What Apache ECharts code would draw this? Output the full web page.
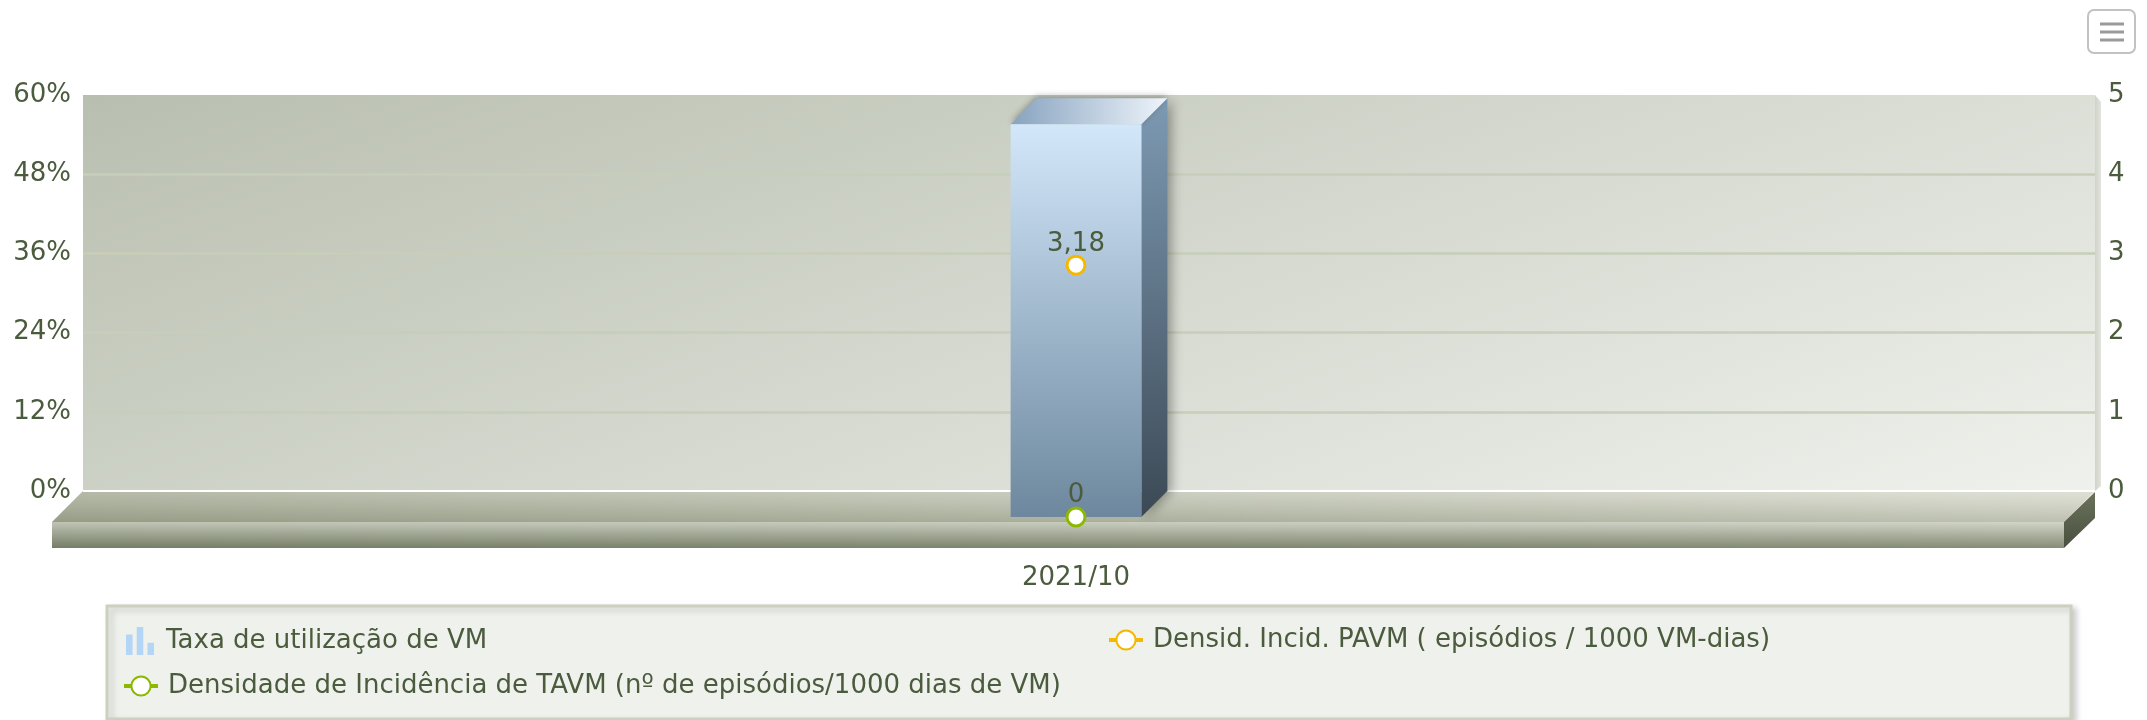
<!DOCTYPE html>
<html>
<head>
<meta charset="utf-8">
<script src="https://cdn.jsdelivr.net/npm/echarts@6/dist/echarts.min.js"></script>
<style>
html,body{margin:0;padding:0;background:#fff;}
#chart{width:2147px;height:720px;}
</style>
</head>
<body>
<div id="chart"></div>
<script>
// dados
var categories = ['2021/10'];
var taxaVM = [59.5];          // % (eixo esquerdo)
var densPAVM = [3.18];        // eixo direito
var densTAVM = [0];           // eixo direito
var pctAxis = {min: 0, max: 60, interval: 12};
var rightAxis = {min: 0, max: 5, interval: 1};

var NAME_BAR = 'Taxa de utilização de VM';
var NAME_PAVM = 'Densid. Incid. PAVM ( episódios / 1000 VM-dias)';
var NAME_TAVM = 'Densidade de Incidência de TAVM (nº de episódios/1000 dias de VM)';

var TXT = '#4b5b3d';
var FONT = 'DejaVu Sans, Verdana, sans-serif';
var FS = 26;
var wall = {x: 83, y: 95, w: 2012, h: 396};
var depth = 26;   // profundidade da barra
var floorD = 31;  // profundidade do chão

var LG = echarts.graphic.LinearGradient;
var chart = echarts.init(document.getElementById('chart'));

var floorY = wall.y + wall.h;
var floorTop = [[wall.x,floorY],[wall.x+wall.w,floorY],[wall.x+wall.w-floorD,floorY+floorD],[wall.x-floorD,floorY+floorD]];
var graphics = [
	//chão - face superior
	{type:'polygon', z:1, shape:{points:floorTop},
		style:{fill:new LG(0,0,1,0,[{offset:0,color:'#a9af9a'},{offset:1,color:'#dadccf'}])}},
	{type:'polygon', z:1, shape:{points:floorTop},
		style:{fill:new LG(0,0,0,1,[{offset:0,color:'rgba(255,255,255,0.15)'},{offset:1,color:'rgba(60,70,40,0.18)'}])}},
	//chão - frente
	{type:'rect', z:1, shape:{x:wall.x-floorD,y:floorY+floorD,width:wall.w,height:26},
		style:{fill:new LG(0,0,1,0,[{offset:0,color:'#9ea58e'},{offset:1,color:'#b8bda9'}])}},
	{type:'rect', z:1, shape:{x:wall.x-floorD,y:floorY+floorD,width:wall.w,height:26},
		style:{fill:new LG(0,0,0,1,[{offset:0,color:'rgba(255,255,255,0.35)'},{offset:1,color:'rgba(40,50,25,0.35)'}])}},
	//chão - lado direito
	{type:'polygon', z:1, shape:{points:[[wall.x+wall.w-floorD,floorY+floorD],[wall.x+wall.w,floorY+1],[wall.x+wall.w,floorY+27],[wall.x+wall.w-floorD,floorY+floorD+26]]},
		style:{fill:new LG(0,0,0,1,[{offset:0,color:'#6a725c'},{offset:1,color:'#4a5040'}])}},
	//linha branca na base da parede
	{type:'line', z:1, shape:{x1:wall.x,y1:floorY,x2:wall.x+wall.w,y2:floorY}, style:{stroke:'#ffffff',lineWidth:2}},
	//lado da parede
	{type:'polygon', z:1, shape:{points:[[wall.x+wall.w,wall.y],[wall.x+wall.w+6,wall.y+7],[wall.x+wall.w+6,floorY-5],[wall.x+wall.w,floorY]]},
		style:{fill:new LG(0,0,1,0,[{offset:0,color:'#cfd3c8'},{offset:1,color:'#e2e4dd'}])}},
	//caixa da legenda
	{type:'rect', z:0, shape:{x:107,y:606,width:1964,height:113},
		style:{fill:'#eff1ec',stroke:'#cbd0c0',lineWidth:3,shadowColor:'rgba(0,0,0,0.18)',shadowBlur:6,shadowOffsetX:4,shadowOffsetY:3}},
	//botão de menu
	{type:'rect', z:5, shape:{x:2088,y:10,width:47,height:43,r:6}, style:{fill:'#fff',stroke:'#c2c2c2',lineWidth:2}},
	{type:'line', z:5, shape:{x1:2100,y1:24,x2:2124,y2:24}, style:{stroke:'#9a9a9a',lineWidth:3}},
	{type:'line', z:5, shape:{x1:2100,y1:32,x2:2124,y2:32}, style:{stroke:'#9a9a9a',lineWidth:3}},
	{type:'line', z:5, shape:{x1:2100,y1:40,x2:2124,y2:40}, style:{stroke:'#9a9a9a',lineWidth:3}}
];

function renderBar3D(params, api){
	var top = api.coord([api.value(0), api.value(1)]);
	var base = api.coord([api.value(0), 0]);
	var bw = api.size([1,0])[0]*0.065;
	var x0 = top[0]-bw/2, x1 = top[0]+bw/2, d = depth;
	return {type:'group', children:[
		{type:'polygon', shape:{points:[[x1,top[1]],[x1+d,top[1]-d],[x1+d,base[1]-d],[x1,base[1]]]},
			style:{fill:new LG(0,0,0,1,[{offset:0,color:'#7d9ab3'},{offset:1,color:'#3c4955'}]),
				shadowColor:'rgba(0,0,0,0.35)',shadowBlur:12,shadowOffsetX:4}},
		{type:'polygon', shape:{points:[[x0,top[1]],[x0+d,top[1]-d],[x1+d,top[1]-d],[x1,top[1]]]},
			style:{fill:new LG(0,0,1,0,[{offset:0,color:'#87a3bf'},{offset:1,color:'#eef4fb'}]),
				shadowColor:'rgba(0,0,0,0.3)',shadowBlur:6,shadowOffsetY:-2}},
		{type:'rect', shape:{x:x0,y:top[1],width:bw,height:base[1]-top[1]},
			style:{fill:new LG(0,0,0,1,[{offset:0,color:'#d3e7fa'},{offset:1,color:'#6d889e'}])}}
	]};
}

var labelFmt = function(p){ return String(p.value).replace('.', ','); };
var barIcon = 'path://M0,8h7v22h-7Z M11.5,0h7v30h-7Z M23,17h7v13h-7Z';
var legendText = {color:TXT, fontSize:FS, fontFamily:FONT, padding:[0,0,0,5]};

var option = {
	animation: false,
	graphic: graphics,
	grid: [
		{left:wall.x, top:wall.y, width:wall.w, height:wall.h, show:true, borderWidth:0,
			backgroundColor:new LG(83,95,429,1077,[{offset:0,color:'#b9bfb0'},{offset:1,color:'#eff1ec'}],true)},
		{left:wall.x-depth/2, top:wall.y+depth, width:wall.w, height:wall.h}
	],
	xAxis: [
		{type:'category', gridIndex:0, data:categories, show:false},
		{type:'category', gridIndex:1, data:categories,
			axisLine:{show:false}, axisTick:{show:false},
			axisLabel:{margin:48, color:TXT, fontSize:FS, fontFamily:FONT}}
	],
	yAxis: [
		{type:'value', gridIndex:0, position:'left', min:pctAxis.min, max:pctAxis.max, interval:pctAxis.interval,
			axisLine:{show:false}, axisTick:{show:false},
			axisLabel:{formatter:'{value}%', margin:12, color:TXT, fontSize:FS, fontFamily:FONT, padding:[7,0,0,0]},
			splitLine:{show:true, showMinLine:false, showMaxLine:false, lineStyle:{color:'#c7ceb9', width:2.5}}},
		{type:'value', gridIndex:0, position:'right', min:rightAxis.min, max:rightAxis.max, interval:rightAxis.interval,
			axisLine:{show:false}, axisTick:{show:false}, splitLine:{show:false},
			axisLabel:{margin:13, color:TXT, fontSize:FS, fontFamily:FONT, padding:[7,0,0,0]}},
		{type:'value', gridIndex:1, min:pctAxis.min, max:pctAxis.max, show:false, splitLine:{show:false}},
		{type:'value', gridIndex:1, min:rightAxis.min, max:rightAxis.max, show:false, splitLine:{show:false}}
	],
	legend: [
		{data:[{name:NAME_BAR, icon:barIcon}], left:126, top:627, padding:0, itemWidth:32, itemHeight:28,
			textStyle:legendText},
		{data:[NAME_TAVM], left:122, top:673, padding:0, itemWidth:34, itemHeight:24,
			lineStyle:{width:4}, textStyle:legendText},
		{data:[NAME_PAVM], left:1107, top:627, padding:0, itemWidth:34, itemHeight:24,
			lineStyle:{width:4}, textStyle:legendText}
	],
	series: [
		{name:NAME_BAR, type:'custom', xAxisIndex:1, yAxisIndex:2, z:2,
			itemStyle:{color:'#b3d5f6'},
			renderItem:renderBar3D,
			encode:{x:0, y:1},
			data:categories.map(function(c,i){ return [i, taxaVM[i]]; })},
		{name:NAME_PAVM, type:'line', xAxisIndex:1, yAxisIndex:3, z:4,
			symbol:'circle', symbolSize:18,
			lineStyle:{color:'#f5b800', width:4},
			itemStyle:{color:'#ffffff', borderColor:'#f5b800', borderWidth:3},
			label:{show:true, position:'top', distance:3, offset:[0,6], color:TXT, fontSize:FS, fontFamily:FONT, formatter:labelFmt},
			data:densPAVM},
		{name:NAME_TAVM, type:'line', xAxisIndex:1, yAxisIndex:3, z:4,
			symbol:'circle', symbolSize:18,
			lineStyle:{color:'#8cb800', width:4},
			itemStyle:{color:'#ffffff', borderColor:'#8cb800', borderWidth:3},
			label:{show:true, position:'top', distance:3, offset:[0,5], color:TXT, fontSize:FS, fontFamily:FONT, formatter:labelFmt},
			data:densTAVM}
	]
};
chart.setOption(option);
</script>
</body>
</html>
